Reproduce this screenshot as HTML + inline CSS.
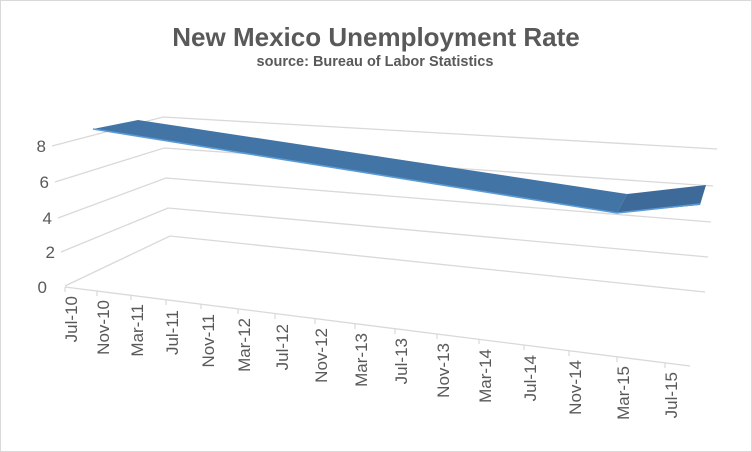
<!DOCTYPE html>
<html><head><style>
body{margin:0;background:#fff}
svg{display:block}
text{font-family:"Liberation Sans",sans-serif;fill:#595959}
</style></head><body>
<svg width="752" height="452" viewBox="0 0 752 452">
<rect x="0.5" y="0.5" width="751" height="451" fill="#fff" stroke="#d9d9d9"/>
<text x="376" y="46" font-size="26" font-weight="bold" text-anchor="middle">New Mexico Unemployment Rate</text>
<text x="375" y="66" font-size="14.5" font-weight="bold" text-anchor="middle" fill="#404040">source: Bureau of Labor Statistics</text>
<g stroke="#d9d9d9" stroke-width="1.3" fill="none">
<polyline points="52,146 163,117 717,149"/>
<polyline points="55,182 164,148 713,186"/>
<polyline points="58,218 166,178 711,222"/>
<polyline points="61,252 168,208 708,257"/>
<polyline points="65,286 170,236 705,292"/>
<line x1="65" y1="287" x2="690" y2="366"/>
</g>
<g stroke="#d9d9d9" stroke-width="1.2">
<line x1="65" y1="287" x2="65" y2="292"/><line x1="97" y1="291" x2="97" y2="296"/><line x1="131" y1="295" x2="131" y2="300"/><line x1="166" y1="300" x2="166" y2="305"/><line x1="201" y1="304" x2="201" y2="309"/><line x1="238" y1="309" x2="238" y2="314"/><line x1="275" y1="314" x2="275" y2="319"/><line x1="315" y1="319" x2="315" y2="324"/><line x1="355" y1="324" x2="355" y2="329"/><line x1="395" y1="329" x2="395" y2="334"/><line x1="437" y1="334" x2="437" y2="339"/><line x1="479" y1="339" x2="479" y2="344"/><line x1="524" y1="345" x2="524" y2="350"/><line x1="569" y1="351" x2="569" y2="356"/><line x1="617" y1="357" x2="617" y2="362"/><line x1="665" y1="363" x2="665" y2="368"/>
</g>
<g font-size="17" text-anchor="end">
<text x="46" y="152">8</text><text x="49" y="188">6</text><text x="52" y="224">4</text><text x="55" y="258">2</text><text x="47" y="293">0</text>
</g>
<g font-size="17" text-anchor="end">
<text transform="translate(77,296) rotate(-90)">Jul-10</text>
<text transform="translate(109,300) rotate(-90)">Nov-10</text>
<text transform="translate(143,304) rotate(-90)">Mar-11</text>
<text transform="translate(178,310) rotate(-90)">Jul-11</text>
<text transform="translate(214,314) rotate(-90)">Nov-11</text>
<text transform="translate(250,318) rotate(-90)">Mar-12</text>
<text transform="translate(288,324) rotate(-90)">Jul-12</text>
<text transform="translate(327,328) rotate(-90)">Nov-12</text>
<text transform="translate(367,333) rotate(-90)">Mar-13</text>
<text transform="translate(407,338) rotate(-90)">Jul-13</text>
<text transform="translate(449,343) rotate(-90)">Nov-13</text>
<text transform="translate(491,349) rotate(-90)">Mar-14</text>
<text transform="translate(536,355) rotate(-90)">Jul-14</text>
<text transform="translate(581,360) rotate(-90)">Nov-14</text>
<text transform="translate(629,366) rotate(-90)">Mar-15</text>
<text transform="translate(677,372) rotate(-90)">Jul-15</text>
</g>
<polygon points="93,129 138,120 627,194 617,213" fill="#4274a6"/>
<polygon points="617,213 627,194 706,185 700,205" fill="#3d6a98"/>
<polyline points="93,129 617,213 700,204" fill="none" stroke="#5b9bd5" stroke-width="1.6"/>
</svg>
</body></html>
